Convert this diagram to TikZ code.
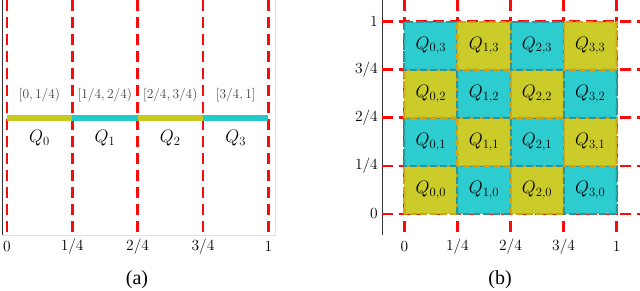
\RequirePackage{fix-cm}
\documentclass[tikz,border=0pt]{standalone}
\usepackage{fontspec}
\newfontfamily\capfont{Liberation Serif}
\definecolor{qyel}{RGB}{200,200,30}
\definecolor{qcyan}{RGB}{34,202,204}
\definecolor{qyelb}{RGB}{214,160,20}
\definecolor{qcyanb}{RGB}{40,150,155}
\definecolor{redl}{RGB}{250,10,10}
\tikzset{
  redgrid/.style={draw=redl, line width=2.6pt, dash pattern=on 11pt off 6pt},
  axisline/.style={draw=black!80, line width=0.8pt},
  framel/.style={draw=black!12, line width=0.6pt},
  ticklab/.style={font=\fontsize{15.5}{17}\selectfont, inner sep=0pt},
  intlab/.style={font=\fontsize{13.5}{15}\selectfont, inner sep=0pt, text=black!75},
  qlab/.style={font=\fontsize{18}{20}\selectfont, inner sep=0pt},
  caplab/.style={font=\capfont\fontsize{20}{22}\selectfont, inner sep=0pt},
  cellY/.style={fill=qyel, fill opacity=0.95, draw=qyelb, line width=2pt, dash pattern=on 7pt off 3pt},
  cellC/.style={fill=qcyan, fill opacity=0.95, draw=qcyanb, line width=2pt, dash pattern=on 7pt off 3pt},
}
\begin{document}
\begin{tikzpicture}[x=1pt,y=-1pt]
\useasboundingbox (0,0) rectangle (640,291);
% ---------- panel (a) ----------
\draw[framel] (2,235) -- (275,235) -- (275,0);
\draw[axisline] (2,0) -- (2,235);
\foreach \i in {0,...,4} {
  \coordinate (at\i) at ({6.8+65.4*\i},0);
  \coordinate (ab\i) at ({6.8+65.4*\i},235);
  \draw[redgrid] (at\i) -- (ab\i);
}
\foreach \i/\c in {0/qyel,1/qcyan,2/qyel,3/qcyan} {
  \pgfmathtruncatemacro{\n}{\i+1}
  \coordinate (bl\i) at ({6.8+65.4*\i},118.5);
  \coordinate (br\i) at ({6.8+65.4*\n},118.5);
  \draw[\c, line width=6pt] (bl\i) -- (br\i);
}
\node[intlab] (ia0) at ({6.8+65.4*0.5},95) {$[0,1/4)$};
\node[intlab] (ia1) at ({6.8+65.4*1.5},95) {$[1/4,2/4)$};
\node[intlab] (ia2) at ({6.8+65.4*2.5},95) {$[2/4,3/4)$};
\node[intlab] (ia3) at ({6.8+65.4*3.5},95) {$[3/4,1]$};
\foreach \i in {0,...,3} {
  \node[qlab] (qa\i) at ({6.8+65.4*(\i+0.5)},138) {$Q_{\i}$};
}
\node[ticklab] (ta0) at ({6.8+65.4*0},247) {$0$};
\node[ticklab] (ta1) at ({6.8+65.4*1},247) {$1/4$};
\node[ticklab] (ta2) at ({6.8+65.4*2},247) {$2/4$};
\node[ticklab] (ta3) at ({6.8+65.4*3},247) {$3/4$};
\node[ticklab] (ta4) at ({6.8+65.4*4},247) {$1$};
\node[caplab] (capa) at (137,280) {(a)};
% ---------- panel (b) ----------
\draw[axisline] (382,0) -- (382,235);
\foreach \i in {0,...,4} {
  \coordinate (vt\i) at ({404.3+53.1*\i},0);
  \coordinate (vb\i) at ({404.3+53.1*\i},235);
  \draw[redgrid] (vt\i) -- (vb\i);
  \coordinate (hl\i) at (382,{214-48.1*\i});
  \coordinate (hr\i) at (640,{214-48.1*\i});
  \draw[redgrid] (hl\i) -- (hr\i);
}
\foreach \i in {0,...,3} {
  \foreach \j in {0,...,3} {
    \pgfmathtruncatemacro{\prty}{mod(\i+\j,2)}
    \ifnum\prty=0 \def\cs{cellY}\else\def\cs{cellC}\fi
    \path[\cs] ({404.3+53.1*\i},{214-48.1*\j}) rectangle ({404.3+53.1*(\i+1)},{214-48.1*(\j+1)});
    \node[qlab] (q\i\j) at ({404.3+53.1*(\i+0.5)},{214-48.1*(\j+0.5)}) {$Q_{\i,\j}$};
  }
}
\node[ticklab] (tb0) at ({404.3+53.1*0},247) {$0$};
\node[ticklab] (tb1) at ({404.3+53.1*1},247) {$1/4$};
\node[ticklab] (tb2) at ({404.3+53.1*2},247) {$2/4$};
\node[ticklab] (tb3) at ({404.3+53.1*3},247) {$3/4$};
\node[ticklab] (tb4) at ({404.3+53.1*4},247) {$1$};
\node[ticklab, anchor=east] (ty0) at (378,{214-48.1*0}) {$0$};
\node[ticklab, anchor=east] (ty1) at (378,{214-48.1*1}) {$1/4$};
\node[ticklab, anchor=east] (ty2) at (378,{214-48.1*2}) {$2/4$};
\node[ticklab, anchor=east] (ty3) at (378,{214-48.1*3}) {$3/4$};
\node[ticklab, anchor=east] (ty4) at (378,{214-48.1*4}) {$1$};
\node[caplab] (capb) at (500,280) {(b)};
\end{tikzpicture}
\end{document}
